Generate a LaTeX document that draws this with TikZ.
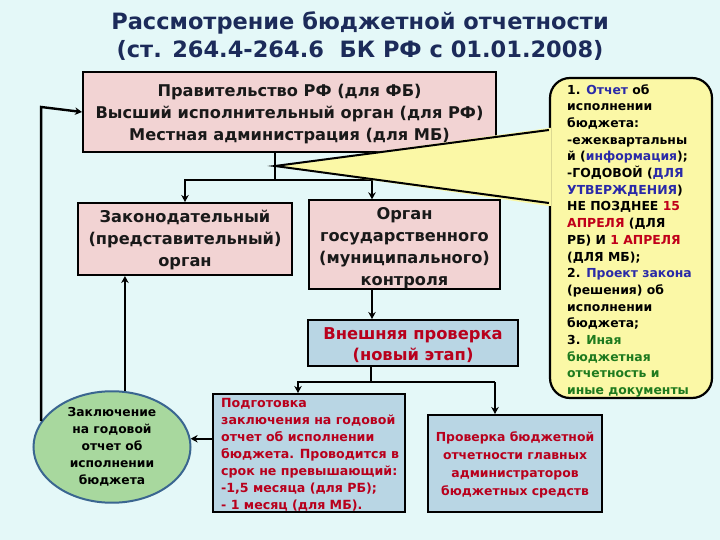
\documentclass[tikz,border=0pt]{standalone}
\usepackage{fontspec}
\setmainfont{DejaVu Sans}
\usetikzlibrary{arrows.meta,shapes.geometric}
\definecolor{bg}{HTML}{E4F8F8}
\definecolor{pinkbox}{HTML}{F2D3D3}
\definecolor{bluebox}{HTML}{B9D6E4}
\definecolor{ellfill}{HTML}{A8D89E}
\definecolor{ellline}{HTML}{3A6690}
\definecolor{calloutfill}{HTML}{FBF8A6}
\definecolor{titlecol}{HTML}{1C2B5A}
\definecolor{redtxt}{HTML}{B8001C}
\definecolor{bluetxt}{HTML}{2A2AA8}
\definecolor{greentxt}{HTML}{1E7A1E}
\definecolor{darkred}{HTML}{C0001A}
\begin{document}
\begin{tikzpicture}[x=1pt,y=-1pt,
  line width=2.4pt,
  box/.style={draw=black, line width=2pt, inner sep=0pt, align=center, text=black!90},
  pinkb/.style={box, fill=pinkbox, font=\bfseries\fontsize{16.2}{22}\selectfont},
  blueb/.style={box, fill=bluebox, text=redtxt},
  arr/.style={-{Stealth[length=7pt,width=7.5pt]}},
]
\useasboundingbox[fill=bg] (0,0) rectangle (720,540);

% title
\node[text=titlecol, font=\bfseries\fontsize{22.5}{28}\selectfont, align=center] (title) at (360,36)
  {Рассмотрение бюджетной отчетности\\(ст. 264.4-264.6\ \ БК РФ с 01.01.2008)};

% boxes
\node[pinkb, minimum width=413pt, minimum height=80pt] (top) at (289.5,112)
  {\rule{0pt}{17pt}Правительство РФ (для ФБ)\\Высший исполнительный орган (для РФ)\\Местная администрация (для МБ)};
\node[pinkb, minimum width=214pt, minimum height=72pt] (zak) at (185,239)
  {\rule{0pt}{15pt}Законодательный\\(представительный)\\орган};
\node[pinkb, minimum width=191pt, minimum height=85pt] (org) at (404.5,244.5)
  {\rule{0pt}{19pt}Орган\\государственного\\(муниципального)\\контроля};
\node[blueb, minimum width=210pt, minimum height=46pt, font=\bfseries\fontsize{16.3}{21}\selectfont] (ext) at (413,343)
  {\rule{0pt}{16pt}Внешняя проверка\\(новый этап)};
\node[blueb, minimum width=192pt, minimum height=118pt] (prep) at (309,453) {};
\node[text=redtxt, align=left, anchor=north west, inner sep=0pt, font=\bfseries\fontsize{12.6}{17.1}\selectfont] (preptxt) at (220,397)
  {Подготовка\\заключения на годовой\\отчет об исполнении\\бюджета. Проводится в\\срок не превышающий:\\-1,5 месяца (для РБ);\\- 1 месяц (для МБ).};
\node[blueb, minimum width=174pt, minimum height=97pt, font=\bfseries\fontsize{12.4}{18}\selectfont] (chk) at (515,463.5)
  {\rule{0pt}{13pt}Проверка бюджетной\\отчетности главных\\администраторов\\бюджетных средств};
\node[ellipse, draw=ellline, line width=2pt, fill=ellfill, minimum width=157pt, minimum height=90pt, inner sep=0pt, align=center,
  font=\bfseries\fontsize{12.3}{17}\selectfont] (ell) at (112,447)
  {Заключение\\на годовой\\отчет об\\исполнении\\бюджета};

% connectors
\coordinate (j1) at (275,180);
\coordinate (j2) at (372,180);
\draw (j1 |- top.south) -- (j1);
\draw[arr] (j2) -- (j1) -| (zak.north);
\draw[arr] (j2) -- (j2 |- org.north);
\draw[arr] (j2 |- org.south) -- (j2 |- ext.north);
\coordinate (j3) at (371,382);
\coordinate (j4) at (298,382);
\coordinate (j5) at (495,382);
\draw (j3 |- ext.south) -- (j3);
\draw[arr] (j5) -- (j4) -- (j4 |- prep.north);
\draw[arr] (j5) -- (j5 |- chk.north);
\draw[arr] (prep.west |- ell.6) -- (ell.6);
\draw[arr] (ell.77) -- (ell.77 |- zak.south);
\coordinate (c1) at (45,107);
\draw[arr] (ell.160) -- (ell.160 |- c1) -- (top.west);

% callout
\node[draw=black, line width=2.2pt, fill=calloutfill, rounded corners=20pt, minimum width=162pt, minimum height=320pt, inner sep=0pt] (call) at (631,238) {};
\fill[calloutfill] (j1 |- 0,166) -- (call.west |- 0,128) -- ([xshift=2pt]call.west |- 0,128) -- ([xshift=2pt]call.west |- 0,206) -- (call.west |- 0,206) -- cycle;
\draw[line width=2pt] (call.west |- 0,130) -- (j1 |- 0,166) -- (call.west |- 0,203);
\node[align=left, anchor=north west, inner sep=0pt, font=\bfseries\fontsize{12.4}{16.7}\selectfont] (calltxt) at (566,83)
  {1. \textcolor{bluetxt}{Отчет} об\\исполнении\\бюджета:\\-ежеквартальны\\й (\textcolor{bluetxt}{информация});\\-ГОДОВОЙ (\textcolor{bluetxt}{ДЛЯ}\\\textcolor{bluetxt}{УТВЕРЖДЕНИЯ})\\НЕ ПОЗДНЕЕ \textcolor{darkred}{15}\\\textcolor{darkred}{АПРЕЛЯ} (ДЛЯ\\РБ) И \textcolor{darkred}{1 АПРЕЛЯ}\\(ДЛЯ МБ);\\2. \textcolor{bluetxt}{Проект закона}\\(решения) об\\исполнении\\бюджета;\\3. \textcolor{greentxt}{Иная}\\\textcolor{greentxt}{бюджетная}\\\textcolor{greentxt}{отчетность и}\\\textcolor{greentxt}{иные документы}};
\end{tikzpicture}
\end{document}
